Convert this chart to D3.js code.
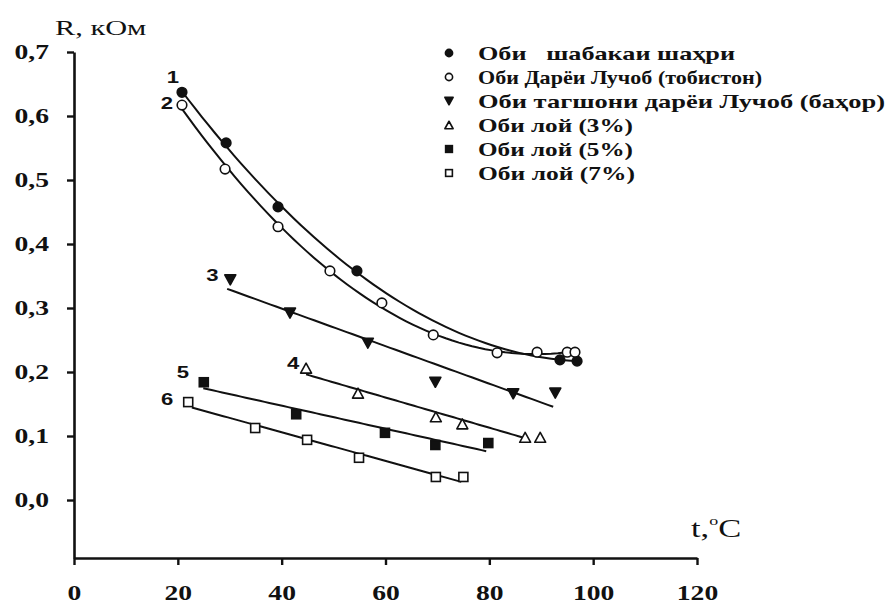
<!DOCTYPE html>
<html>
<head>
<meta charset="utf-8">
<script src="https://cdn.jsdelivr.net/npm/d3@7"></script>
<style>
  body { margin: 0; background: #fff; }
  svg { display: block; }
</style>
</head>
<body>
<svg id="chart" width="887" height="603"></svg>
<script>
// Axis ticks
const xTicks = [0, 20, 40, 60, 80, 100, 120];
const yTicks = [0, 0.1, 0.2, 0.3, 0.4, 0.5, 0.6, 0.7];

// Series labels (legend) and curve numbers
const seriesNames = [
  "Оби\u00A0\u00A0\u00A0шабакаи шаҳри",
  "Оби Дарёи Лучоб (тобистон)",
  "Оби тагшони дарёи Лучоб (баҳор)",
  "Оби лой (3%)",
  "Оби лой (5%)",
  "Оби лой (7%)"
];
const seriesNumbers = ["1", "2", "3", "4", "5", "6"];
const seriesMarkers = ["circleFilled", "circleOpen", "triDown", "triUp", "squareFilled", "squareOpen"];

// Measured resistance R (kOhm) vs temperature t (°C)
const t1 = [20.8, 29.3, 39.3, 54.5, 93.6, 96.9];
const r1 = [0.637, 0.558, 0.458, 0.358, 0.219, 0.217];

const t2 = [20.8, 29.1, 39.3, 49.3, 59.3, 69.2, 81.5, 89.2, 95.0, 96.5];
const r2 = [0.617, 0.517, 0.427, 0.358, 0.308, 0.258, 0.230, 0.231, 0.231, 0.231];

const t3 = [30.1, 41.6, 56.6, 69.6, 84.6, 92.7];
const r3 = [0.344, 0.292, 0.245, 0.184, 0.166, 0.167];

const t4 = [44.7, 54.7, 69.7, 74.8, 86.9, 89.8];
const r4 = [0.206, 0.167, 0.130, 0.119, 0.098, 0.098];

const t5 = [25.0, 42.8, 59.9, 69.6, 79.8];
const r5 = [0.184, 0.134, 0.105, 0.086, 0.089];

const t6 = [22.0, 34.9, 44.9, 54.9, 69.7, 75.0];
const r6 = [0.153, 0.1125, 0.094, 0.066, 0.036, 0.036];

// Trend lines: polynomial degree and temperature span of each fitted line
const fitDegree = [2, 2, 1, 1, 1, 1];
const fitFrom = [20.8, 20.8, 29.5, 44.7, 24.9, 22.7];
const fitTo = [97.0, 97.0, 92.3, 86.3, 79.4, 74.6];

const tValues = [t1, t2, t3, t4, t5, t6];
const rValues = [r1, r2, r3, r4, r5, r6];

const SX = 1.38; // horizontal stretch of the lettering
const ink = "#111";

const svg = d3.select("#chart");

const x = d3.scaleLinear().domain([0, 120]).range([74, 697]);
const y = d3.scaleLinear().domain([-0.0906, 0.7]).range([558, 52]);

function stretch(sel) {
  sel.each(function () {
    const t = d3.select(this);
    const tx = +t.attr("x") || 0;
    const ty = +t.attr("y") || 0;
    t.attr("transform", `translate(${tx},${ty}) scale(${SX},1) translate(${-tx},${-ty})`);
  });
}

// ----- axes -----
const fmt = v => d3.format(".1f")(v).replace(".", ",");

const yAxis = svg.append("g")
  .attr("transform", `translate(${x(0)},0)`)
  .call(d3.axisLeft(y).tickValues(yTicks).tickFormat(fmt).tickSize(7).tickSizeOuter(0).tickPadding(18));

const xAxis = svg.append("g")
  .attr("transform", `translate(0,${y.range()[0]})`)
  .call(d3.axisBottom(x).tickValues(xTicks).tickFormat(d3.format("d")).tickSize(7).tickSizeOuter(0).tickPadding(21));

[yAxis, xAxis].forEach(ax => {
  ax.select(".domain").attr("stroke", ink).attr("stroke-width", 2.6);
  ax.selectAll(".tick line").attr("stroke", ink).attr("stroke-width", 2.4);
  ax.selectAll(".tick text")
    .attr("fill", ink)
    .style("font-family", "'Liberation Serif', 'Times New Roman', serif")
    .style("font-weight", "bold")
    .style("font-size", "20px")
    .call(stretch);
});

// axis titles
svg.append("text")
  .attr("x", 55).attr("y", 35)
  .attr("fill", ink)
  .style("font-family", "'Liberation Serif', 'Times New Roman', serif")
  .style("font-size", "22px")
  .text("R, кОм")
  .call(stretch);

const tTitle = svg.append("text")
  .attr("x", 691).attr("y", 537)
  .attr("fill", ink)
  .style("font-family", "'Liberation Serif', 'Times New Roman', serif")
  .style("font-size", "25px");
tTitle.append("tspan").text("t,");
tTitle.append("tspan").attr("dy", -12).style("font-size", "13px").text("o");
tTitle.append("tspan").attr("dy", 12).text("C");
tTitle.call(stretch);

// ----- markers -----
function drawMarker(g, type, cx, cy, s) {
  const fill = type.endsWith("Filled") || type === "triDown" ? ink : "#fff";
  if (type.startsWith("circle")) {
    g.append("circle").attr("cx", cx).attr("cy", cy).attr("r", s * 0.48)
      .attr("fill", fill).attr("stroke", ink).attr("stroke-width", 1.6);
  } else if (type.startsWith("square")) {
    const h = s * 0.45;
    g.append("rect").attr("x", cx - h).attr("y", cy - h).attr("width", 2 * h).attr("height", 2 * h)
      .attr("fill", fill).attr("stroke", ink).attr("stroke-width", 1.6);
  } else {
    const w = s * 0.55, hh = s * 0.5;
    const pts = type === "triDown"
      ? [[cx - w, cy - hh], [cx + w, cy - hh], [cx, cy + hh]]
      : [[cx - w, cy + hh], [cx + w, cy + hh], [cx, cy - hh]];
    g.append("path").attr("d", "M" + pts.join("L") + "Z")
      .attr("fill", fill).attr("stroke", ink).attr("stroke-width", 1.6).attr("stroke-linejoin", "round");
  }
}

// least-squares polynomial fit
function polyFit(xs, ys, deg) {
  const n = deg + 1;
  const A = Array.from({ length: n }, () => new Array(n + 1).fill(0));
  xs.forEach((xv, k) => {
    for (let i = 0; i < n; i++) {
      for (let j = 0; j < n; j++) A[i][j] += Math.pow(xv, i + j);
      A[i][n] += ys[k] * Math.pow(xv, i);
    }
  });
  for (let c = 0; c < n; c++) {
    let p = c;
    for (let r = c + 1; r < n; r++) if (Math.abs(A[r][c]) > Math.abs(A[p][c])) p = r;
    [A[c], A[p]] = [A[p], A[c]];
    for (let r = 0; r < n; r++) {
      if (r === c) continue;
      const f = A[r][c] / A[c][c];
      for (let k = c; k <= n; k++) A[r][k] -= f * A[c][k];
    }
  }
  const coef = A.map((row, i) => row[n] / row[i]);
  return t => coef.reduce((s, c, i) => s + c * Math.pow(t, i), 0);
}

const plot = svg.append("g");
const line = d3.line().x(d => x(d[0])).y(d => y(d[1]));

tValues.forEach((ts, si) => {
  const rs = rValues[si];
  const f = polyFit(ts, rs, fitDegree[si]);
  const steps = 60;
  const pts = d3.range(steps + 1).map(k => {
    const t = fitFrom[si] + (fitTo[si] - fitFrom[si]) * k / steps;
    return [t, f(t)];
  });
  plot.append("path").attr("d", line(pts))
    .attr("fill", "none").attr("stroke", ink).attr("stroke-width", 2);
});

tValues.forEach((ts, si) => {
  const g = plot.append("g");
  ts.forEach((t, i) => drawMarker(g, seriesMarkers[si], x(t), y(rValues[si][i]), 10));
});

// curve numbers, placed beside the first point of each series
const numOffsets = [[-9, -15], [-15, -2], [-18, -4], [-13, -5], [-21, -10], [-21, -2]];
seriesNumbers.forEach((lab, si) => {
  svg.append("text")
    .attr("x", x(tValues[si][0]) + numOffsets[si][0])
    .attr("y", y(rValues[si][0]) + numOffsets[si][1])
    .attr("text-anchor", "middle")
    .attr("dominant-baseline", "central")
    .attr("fill", ink)
    .style("font-family", "'Liberation Sans', Arial, sans-serif")
    .style("font-weight", "bold")
    .style("font-size", "16px")
    .text(lab)
    .call(stretch);
});

// ----- legend -----
const legendTextWidths = [257, 284, 407, 155, 155, 157];
const legend = svg.append("g");
seriesNames.forEach((name, i) => {
  const cy = 53 + i * 24;
  drawMarker(legend, seriesMarkers[i], 449, cy, 7.5);
  legend.append("text")
    .attr("x", 478).attr("y", cy)
    .attr("dominant-baseline", "central")
    .attr("fill", ink)
    .attr("textLength", legendTextWidths[i])
    .attr("lengthAdjust", "spacingAndGlyphs")
    .style("font-family", "'Liberation Serif', 'Times New Roman', serif")
    .style("font-weight", "bold")
    .style("font-size", "19px")
    .text(name);
});
</script>
</body>
</html>
